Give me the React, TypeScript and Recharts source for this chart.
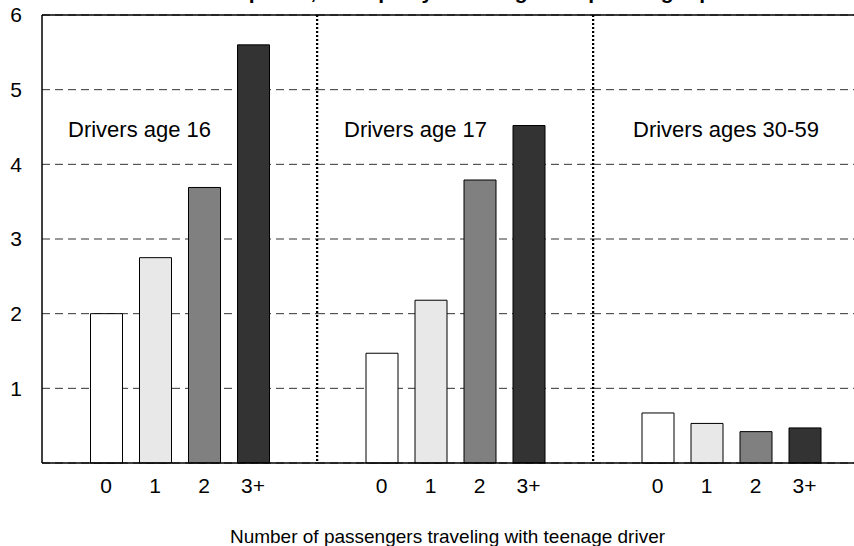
import React from "react";
import { BarChart, Bar, Cell, XAxis, YAxis, CartesianGrid, ReferenceLine } from "recharts";

const passengerLabels = ["0", "1", "2", "3+"];
const age16Values = [2.0, 2.75, 3.69, 5.6];
const age17Values = [1.47, 2.18, 3.79, 4.52];
const age3059Values = [0.67, 0.53, 0.42, 0.47];
const panelTitles = ["Drivers age 16", "Drivers age 17", "Drivers ages 30-59"];
const yTicks = [1, 2, 3, 4, 5, 6];

const FILLS = ["#ffffff", "#e8e8e8", "#808080", "#333333"];
const FONT = "Arial, 'Liberation Sans', sans-serif";

const toRows = (values: number[]) =>
  passengerLabels.map((label, i) => ({ label, value: values[i] }));

const EmptyTick = () => <g />;

interface PanelProps {
  values: number[];
  left: number;
  width: number;
  first?: boolean;
}

const Panel = ({ values, left, width, first }: PanelProps) => {
  const yWidth = first ? 42 : 1;
  const pad = (width - yWidth - 4 * 49) / 2;
  return (
    <div style={{ position: "absolute", left, top: 0 }}>
      <BarChart
        width={width}
        height={546}
        data={toRows(values)}
        margin={{ top: 15, right: 0, left: 0, bottom: 53 }}
        barSize={32}
      >
        <CartesianGrid vertical={false} stroke="#333" strokeDasharray="8 5" />
        <XAxis
          dataKey="label"
          height={30}
          padding={{ left: pad, right: pad }}
          tickLine={false}
          tickMargin={9}
          axisLine={{ stroke: "#000", strokeWidth: 1.5 }}
          tick={{ fill: "#000", fontSize: 21, fontFamily: FONT }}
        />
        <YAxis
          width={yWidth}
          domain={[0, 6]}
          ticks={yTicks}
          tickLine={false}
          tickMargin={14}
          tick={first ? { fill: "#000", fontSize: 21, fontFamily: FONT } : EmptyTick}
          axisLine={
            first
              ? { stroke: "#000", strokeWidth: 1.5 }
              : { stroke: "#000", strokeWidth: 2.5, strokeDasharray: "2 2" }
          }
        />
        <ReferenceLine y={6} stroke="#000" strokeWidth={1.5} />
        <Bar dataKey="value" stroke="#000" strokeWidth={1} isAnimationActive={false}>
          {values.map((_, i) => (
            <Cell key={`cell-${i}`} fill={FILLS[i % FILLS.length]} />
          ))}
        </Bar>
      </BarChart>
    </div>
  );
};

const labelStyle: React.CSSProperties = {
  position: "absolute",
  top: 118,
  fontSize: 22,
  lineHeight: "24px",
  fontFamily: FONT,
  color: "#000",
  whiteSpace: "nowrap",
};

const App = () => {
  return (
    <div
      style={{
        position: "absolute",
        left: 0,
        top: 0,
        width: 854,
        height: 546,
        overflow: "hidden",
        background: "#fff",
        fontFamily: FONT,
      }}
    >
      <Panel values={age16Values} left={0} width={317} first />
      <Panel values={age17Values} left={316} width={277} />
      <Panel values={age3059Values} left={592} width={277} />

      <div style={{ ...labelStyle, left: 68 }}>{panelTitles[0]}</div>
      <div style={{ ...labelStyle, left: 344 }}>{panelTitles[1]}</div>
      <div style={{ ...labelStyle, left: 633 }}>{panelTitles[2]}</div>

      {/* title is cropped off at the top; only descenders show */}
      <div
        style={{
          position: "absolute",
          left: 0,
          width: 900,
          top: -21,
          textAlign: "center",
          fontSize: 21,
          lineHeight: "26px",
          fontWeight: "bold",
          whiteSpace: "nowrap",
        }}
      >
        Driver deaths per 10,000 trips by driver age and passenger presence
      </div>

      <div
        style={{
          position: "absolute",
          left: 42,
          width: 811,
          top: 526,
          textAlign: "center",
          fontSize: 19,
          lineHeight: "22px",
          whiteSpace: "nowrap",
        }}
      >
        Number of passengers traveling with teenage driver
      </div>
    </div>
  );
};

export default App;
